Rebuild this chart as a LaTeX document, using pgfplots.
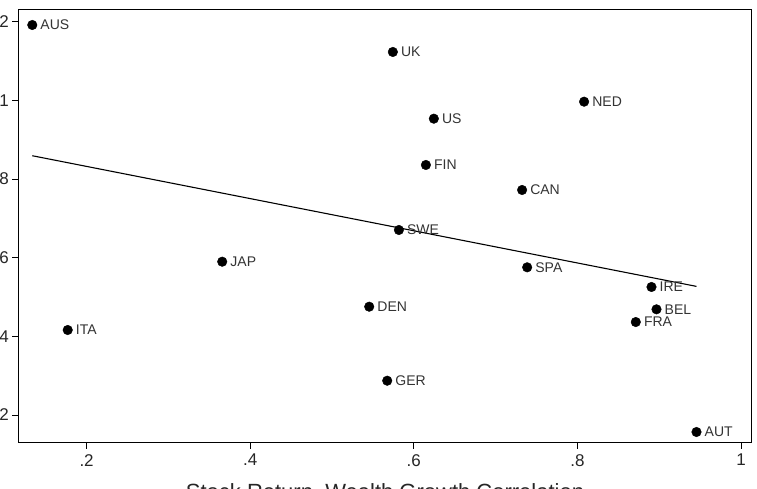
\documentclass[border=0pt]{standalone}
\usepackage{pgfplots}
\usepackage{pgfplotstable}
\pgfplotsset{compat=1.18}
\usepackage{fontspec}
\setmainfont{Liberation Sans}

% Country observations: correlation (x) and outcome (y)
\pgfplotstableread{
x       y       name
0.1336  1.1916  AUS
0.5744  1.1230  UK
0.8082  0.9966  NED
0.6245  0.9534  US
0.6148  0.8357  FIN
0.7324  0.7721  CAN
0.5818  0.6704  SWE
0.3658  0.5898  JAP
0.7386  0.5755  SPA
0.5455  0.4754  DEN
0.5675  0.2872  GER
0.1769  0.4161  ITA
0.8906  0.5255  IRE
0.8967  0.4687  BEL
0.8714  0.4364  FRA
0.9456  0.1568  AUT
}\countries

\begin{document}
\begin{tikzpicture}
\begin{axis}[
  scale only axis,
  width=733.4pt, height=433.4pt,
  xmin=0.1165, xmax=1.0131,
  ymin=0.1296, ymax=1.2315,
  axis line style={line width=1.2pt},
  tick align=outside,
  major tick length=6pt,
  tick style={black, line width=0.9pt},
  xtick pos=bottom, ytick pos=left,
  xtick={0.2,0.4,0.6,0.8,1},
  xticklabels={.2,.4,.6,.8,1},
  ytick={0.2,0.4,0.6,0.8,1,1.2},
  yticklabels={.2,.4,.6,.8,1,1.2},
  ticklabel style={font=\fontsize{17}{20}\selectfont, text=black!85},
  xticklabel style={yshift=-2pt},
  /pgf/number format/assume math mode=true,
  xlabel={Stock Return--Wealth Growth Correlation},
  xlabel style={font=\fontsize{22}{26}\selectfont, text=black!85, yshift=-10pt},
  clip=false,
]
\addplot[only marks, mark=*, mark size=4.8pt, black,
  nodes near coords, point meta=explicit symbolic,
  nodes near coords style={anchor=west, inner sep=0pt, xshift=8pt,
    font=\fontsize{14}{16}\selectfont, text=black!80}]
  table[x=x, y=y, meta=name]{\countries};
% fitted regression line
\addplot[black, line width=1.1pt] coordinates {(0.1336,0.8592) (0.9456,0.5270)};
\end{axis}
\pgfresetboundingbox
\useasboundingbox (-18.3pt,-46.3pt) rectangle (738.7pt,442.7pt);
\end{tikzpicture}
\end{document}
